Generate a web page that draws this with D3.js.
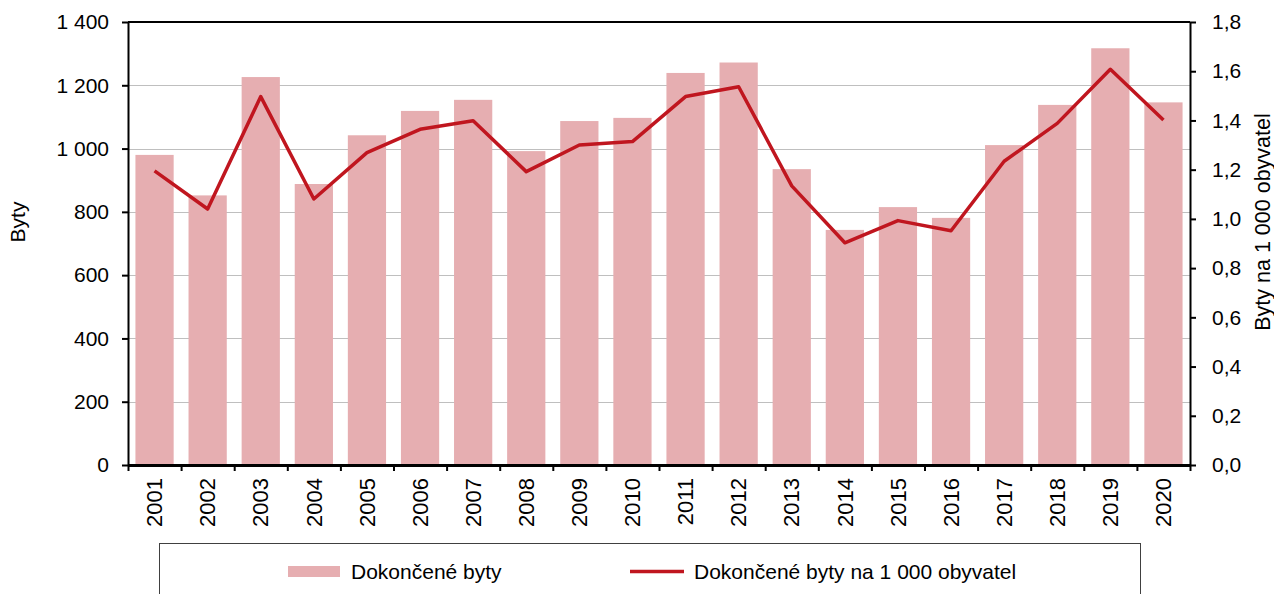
<!DOCTYPE html>
<html>
<head>
<meta charset="utf-8">
<script src="https://cdn.jsdelivr.net/npm/d3@7.9.0/dist/d3.min.js"></script>
<style>
  body { margin: 0; background: #fff; }
  svg { display: block; font-family: "Liberation Sans", Arial, sans-serif; }
  .axis text { font-size: 21px; fill: #000; }
  .axis path, .axis line { stroke: #000; }
</style>
</head>
<body>
<div id="chart"></div>
<script>
const years = ['2001', '2002', '2003', '2004', '2005', '2006', '2007', '2008', '2009', '2010',
               '2011', '2012', '2013', '2014', '2015', '2016', '2017', '2018', '2019', '2020'];
const completedFlats = [980, 852, 1226, 888, 1042, 1119, 1154, 992, 1087, 1097,
                        1239, 1272, 935, 743, 815, 781, 1011, 1138, 1317, 1146];
const flatsPer1000 = [1.195, 1.040, 1.497, 1.081, 1.269, 1.364, 1.399, 1.192, 1.300, 1.314,
                      1.497, 1.537, 1.134, 0.903, 0.993, 0.952, 1.234, 1.388, 1.608, 1.402];
const leftTicks = [0, 200, 400, 600, 800, 1000, 1200, 1400];
const rightTicks = [0, 0.2, 0.4, 0.6, 0.8, 1.0, 1.2, 1.4, 1.6, 1.8];

const width = 1274;
const height = 594;
const plot = { left: 128, right: 1190, top: 22, bottom: 465 };

const barColor = '#e6aeb1';
const lineColor = '#c0161f';

const czLocale = d3.formatLocale({ decimal: ',', thousands: ' ', grouping: [3], currency: ['', ''] });
const fmtLeft = czLocale.format(',d');
const fmtRight = czLocale.format('.1f');

const svg = d3.select('#chart')
    .append('svg')
    .attr('width', width)
    .attr('height', height);

const x = d3.scaleBand()
    .domain(years)
    .range([plot.left, plot.right])
    .paddingInner(0.28)
    .paddingOuter(0.14);

const xEdges = d3.scaleLinear()
    .domain([0, years.length])
    .range([plot.left, plot.right]);

const yLeft = d3.scaleLinear()
    .domain([0, 1400])
    .range([plot.bottom, plot.top]);

const yRight = d3.scaleLinear()
    .domain([0, 1.8])
    .range([plot.bottom, plot.top]);

// gridlines
svg.append('g')
    .selectAll('line')
    .data(leftTicks.filter(d => d > 0 && d < 1400))
    .join('line')
    .attr('x1', plot.left)
    .attr('x2', plot.right)
    .attr('y1', d => Math.round(yLeft(d)) + 0.5)
    .attr('y2', d => Math.round(yLeft(d)) + 0.5)
    .attr('stroke', '#bfbfbf')
    .attr('stroke-width', 1);

// bars
svg.append('g')
    .selectAll('rect')
    .data(years)
    .join('rect')
    .attr('x', d => x(d))
    .attr('width', x.bandwidth())
    .attr('y', (d, i) => yLeft(completedFlats[i]))
    .attr('height', (d, i) => yLeft(0) - yLeft(completedFlats[i]))
    .attr('fill', barColor);

// top border
svg.append('line')
    .attr('x1', plot.left)
    .attr('x2', plot.right)
    .attr('y1', plot.top)
    .attr('y2', plot.top)
    .attr('stroke', '#000')
    .attr('stroke-width', 2);

// line series
const line = d3.line()
    .x((d, i) => x(years[i]) + x.bandwidth() / 2)
    .y(d => yRight(d));

svg.append('path')
    .datum(flatsPer1000)
    .attr('d', line)
    .attr('fill', 'none')
    .attr('stroke', lineColor)
    .attr('stroke-width', 3.5)
    .attr('stroke-linejoin', 'round');

// axes
const leftAxis = svg.append('g')
    .attr('class', 'axis')
    .attr('transform', `translate(${plot.left},0)`)
    .call(d3.axisLeft(yLeft).tickValues(leftTicks).tickFormat(fmtLeft).tickSize(6).tickSizeOuter(0).tickPadding(13));
leftAxis.select('.domain').attr('stroke-width', 2);
leftAxis.selectAll('.tick line').attr('stroke-width', 2);

const rightAxis = svg.append('g')
    .attr('class', 'axis')
    .attr('transform', `translate(${plot.right},0)`)
    .call(d3.axisRight(yRight).tickValues(rightTicks).tickFormat(fmtRight).tickSize(6).tickSizeOuter(0).tickPadding(16));
rightAxis.select('.domain').attr('stroke-width', 2);
rightAxis.selectAll('.tick line').attr('stroke-width', 2);

// x axis: tick marks at category boundaries
const xTicks = svg.append('g')
    .attr('class', 'axis')
    .attr('transform', `translate(0,${plot.bottom})`)
    .call(d3.axisBottom(xEdges).tickValues(d3.range(0, years.length + 1)).tickFormat('').tickSize(6).tickSizeOuter(0));
xTicks.select('.domain').attr('stroke-width', 3);
xTicks.selectAll('.tick line').attr('stroke-width', 2);

// x labels
const xLabels = svg.append('g')
    .attr('class', 'axis')
    .attr('transform', `translate(0,${plot.bottom})`)
    .call(d3.axisBottom(x).tickSize(0));
xLabels.select('.domain').remove();
xLabels.selectAll('.tick text')
    .style('font-size', '22px')
    .attr('transform', 'rotate(-90)')
    .attr('text-anchor', 'end')
    .attr('x', -13)
    .attr('y', 0)
    .attr('dy', '0.35em');

// axis titles
const titleY = 222;
svg.append('text')
    .attr('transform', `translate(25,${titleY}) rotate(-90)`)
    .attr('text-anchor', 'middle')
    .style('font-size', '21px')
    .text('Byty');

svg.append('text')
    .attr('transform', `translate(1270,${titleY}) rotate(-90)`)
    .attr('text-anchor', 'middle')
    .style('font-size', '21.5px')
    .text('Byty na 1 000 obyvatel');

// legend
const legend = svg.append('g');
legend.append('rect')
    .attr('x', 159.5)
    .attr('y', 543.5)
    .attr('width', 981)
    .attr('height', 80)
    .attr('fill', '#fff')
    .attr('stroke', '#404040')
    .attr('stroke-width', 1);

legend.append('rect')
    .attr('x', 288)
    .attr('y', 566)
    .attr('width', 52)
    .attr('height', 11)
    .attr('fill', barColor);

legend.append('text')
    .attr('x', 351)
    .attr('y', 579)
    .style('font-size', '21px')
    .text('Dokončené byty');

legend.append('line')
    .attr('x1', 630)
    .attr('x2', 684)
    .attr('y1', 571.5)
    .attr('y2', 571.5)
    .attr('stroke', lineColor)
    .attr('stroke-width', 3.5);

legend.append('text')
    .attr('x', 694)
    .attr('y', 579)
    .style('font-size', '21px')
    .text('Dokončené byty na 1 000 obyvatel');
</script>
</body>
</html>
